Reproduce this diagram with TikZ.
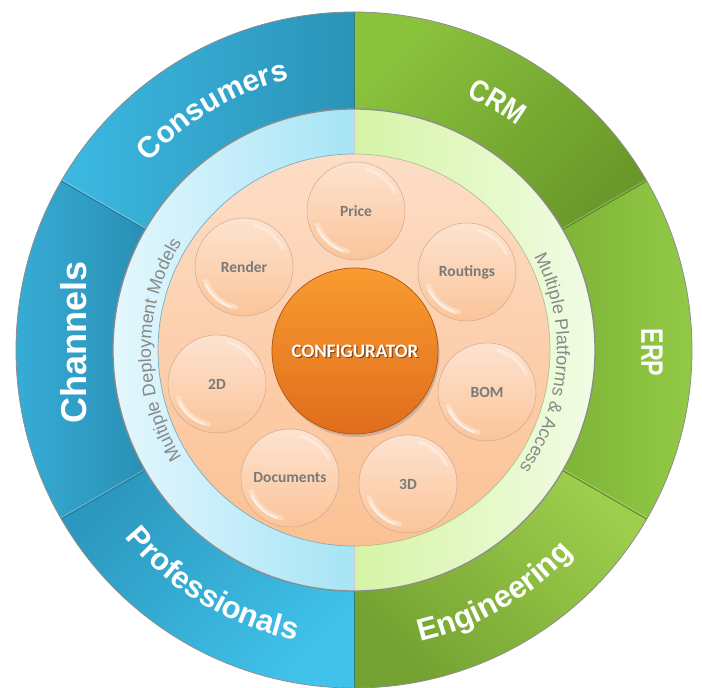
\documentclass[tikz,border=0pt]{standalone}
\usepackage{fontspec}
\setmainfont{Carlito}
\newfontfamily\lsans{Liberation Sans}
\newfontfamily\lsanscrm{Liberation Sans}[BoldFeatures={FakeStretch=0.86}]
\newfontfamily\lsanserp{Liberation Sans}[BoldFeatures={FakeStretch=0.75}]
\usetikzlibrary{decorations.text,shadows}
\definecolor{consL}{HTML}{3CB9E2}
\definecolor{consR}{HTML}{2B93B8}
\definecolor{chanL}{HTML}{38B0DA}
\definecolor{chanR}{HTML}{2A8FB4}
\definecolor{profT}{HTML}{2C98BF}
\definecolor{profB}{HTML}{40C2EA}
\definecolor{crmT}{HTML}{8AC23D}
\definecolor{crmB}{HTML}{6A982A}
\definecolor{erpL}{HTML}{7FB437}
\definecolor{erpR}{HTML}{94CC47}
\definecolor{engT}{HTML}{9ECE4C}
\definecolor{engB}{HTML}{74A232}
\definecolor{blueDiv}{HTML}{22799A}
\definecolor{greenDiv}{HTML}{5C8624}
\definecolor{ringBL}{HTML}{E4F7FD}
\definecolor{ringBR}{HTML}{A6E4F6}
\definecolor{ringGL}{HTML}{D6F4A6}
\definecolor{ringGR}{HTML}{F1FCE4}
\definecolor{peachT}{HTML}{FDDDC6}
\definecolor{peachB}{HTML}{FBC193}
\definecolor{bubT}{HTML}{FDE3D0}
\definecolor{bubB}{HTML}{FBC499}
\definecolor{bubLine}{HTML}{CDAA92}
\definecolor{bubText}{HTML}{7A7A7A}
\definecolor{cfgT}{HTML}{F99C30}
\definecolor{cfgB}{HTML}{E06C1C}
\definecolor{cfgLine}{HTML}{B65A18}
\definecolor{ringText}{HTML}{888888}
\begin{document}
\begin{tikzpicture}[x=1pt,y=1pt,
  bubble/.style={circle, minimum size=98pt, inner sep=0pt,
    top color=bubT, bottom color=bubB, draw=bubLine, line width=0.5pt,
    text=bubText, font=\bfseries\fontsize{15.5}{18}\selectfont,
    path picture={
      \draw[white, opacity=0.35, line width=5pt, line cap=round]
        (path picture bounding box.center) ++(200:41) arc[start angle=200, end angle=258, radius=41];
      \draw[white, opacity=0.6, line width=2pt, line cap=round]
        (path picture bounding box.center) ++(205:42) arc[start angle=205, end angle=252, radius=42];
      \draw[white, opacity=0.35, line width=3pt, line cap=round]
        (path picture bounding box.center) ++(25:43) arc[start angle=25, end angle=75, radius=43];
    }},
  outerlab/.style={text=white, inner sep=0pt},
  divline/.style={line width=1pt},
]
\useasboundingbox (0,0) rectangle (702,688);
\begin{scope}[shift={(354,338)}]
  % outer ring sectors
  \shade[left color=consL, right color=consR]
    (90:338) arc[start angle=90,end angle=150,radius=338] -- (150:241) arc[start angle=150,end angle=90,radius=241] -- cycle;
  \shade[left color=chanL, right color=chanR]
    (150:338) arc[start angle=150,end angle=210,radius=338] -- (210:241) arc[start angle=210,end angle=150,radius=241] -- cycle;
  \shade[top color=profT, bottom color=profB, shading angle=45]
    (210:338) arc[start angle=210,end angle=270,radius=338] -- (270:241) arc[start angle=270,end angle=210,radius=241] -- cycle;
  \shade[top color=crmT, bottom color=crmB, shading angle=45]
    (30:338) arc[start angle=30,end angle=90,radius=338] -- (90:241) arc[start angle=90,end angle=30,radius=241] -- cycle;
  \shade[left color=erpL, right color=erpR]
    (-30:338) arc[start angle=-30,end angle=30,radius=338] -- (30:241) arc[start angle=30,end angle=-30,radius=241] -- cycle;
  \shade[top color=engT, bottom color=engB, shading angle=-45]
    (270:338) arc[start angle=270,end angle=330,radius=338] -- (330:241) arc[start angle=330,end angle=270,radius=241] -- cycle;
  % dividers
  \foreach \a in {150,210} {
    \draw[divline, blueDiv] (\a:241) -- (\a:338);
    \draw[white, opacity=0.25, line width=1pt] ([shift={(\a-90:1.2)}]\a:241) -- ([shift={(\a-90:1.2)}]\a:338);
  }
  \foreach \a in {30,330} {
    \draw[divline, greenDiv] (\a:241) -- (\a:338);
    \draw[white, opacity=0.25, line width=1pt] ([shift={(\a+90:1.2)}]\a:241) -- ([shift={(\a+90:1.2)}]\a:338);
  }
  \draw[divline, blueDiv!70!greenDiv] (90:241) -- (90:338);
  \draw[divline, blueDiv!70!greenDiv] (270:241) -- (270:338);
  \draw[black!45, line width=0.8pt] (0,0) circle[radius=338];
  % light ring
  \shade[left color=ringBL, right color=ringBR]
    (90:241) arc[start angle=90,end angle=270,radius=241] -- (270:196) arc[start angle=270,end angle=90,radius=196] -- cycle;
  \shade[left color=ringGL, right color=ringGR]
    (-90:241) arc[start angle=-90,end angle=90,radius=241] -- (90:196) arc[start angle=90,end angle=-90,radius=196] -- cycle;
  \draw[black!20, line width=0.6pt] (90:196) -- (90:241);
  \draw[black!20, line width=0.6pt] (270:196) -- (270:241);
  \draw[black!45, line width=1.3pt] (0,0) circle[radius=241];
  % peach disc
  \shade[top color=peachT, bottom color=peachB] (0,0) circle[radius=196];
  \draw[blueDiv!60, line width=0.7pt] (90:196) arc[start angle=90, end angle=270, radius=196];
  \draw[greenDiv!50, line width=0.7pt] (-90:196) arc[start angle=-90, end angle=90, radius=196];
  % outer labels along arcs
  \path[decorate, decoration={text along path, text align=center,
      text={|\lsans\bfseries\fontsize{30}{34}\selectfont\color{white}|Consumers}}]
    (150:278) arc[start angle=150, end angle=91, radius=278];
  \path[decorate, decoration={text along path, text align=center,
      text={|\lsanscrm\bfseries\fontsize{30}{34}\selectfont\color{white}|CRM}}]
    (80:277) arc[start angle=80, end angle=40, radius=277];
  \path[decorate, decoration={text along path, text align=center,
      text={|\lsans\bfseries\fontsize{31}{35}\selectfont\color{white}|Professionals}}]
    (204:296) arc[start angle=204, end angle=274, radius=296];
  \path[decorate, decoration={text along path, text align=center,
      text={|\lsans\bfseries\fontsize{31}{35}\selectfont\color{white}|Engineering}}]
    (265:299) arc[start angle=265, end angle=335, radius=299];
  % ring labels
  \path[decorate, decoration={text along path, text align=center,
      text={|\lsans\fontsize{18}{20}\selectfont\color{ringText}|Multiple Deployment Models}}]
    (228:203) arc[start angle=228, end angle=132, radius=203];
  \path[decorate, decoration={text along path, text align=center,
      text={|\lsans\fontsize{18}{20}\selectfont\color{ringText}|Multiple Platforms {\&} Access}}]
    (44:203) arc[start angle=44, end angle=-52, radius=203];
\end{scope}
% straight outer labels
\node[outerlab, rotate=90, font=\lsans\bfseries\fontsize{36}{40}\selectfont] (channels) at (74,345.5) {Channels};
\node[outerlab, rotate=-90, font=\lsanserp\bfseries\fontsize{31}{35}\selectfont] (erp) at (652,335.5) {ERP};
% bubbles
\node[bubble] (price) at (356,477) {Price};
\node[bubble] (render) at (244,421) {Render};
\node[bubble] (routings) at (467,416) {Routings};
\node[bubble] (twod) at (217,304) {2D};
\node[bubble] (bom) at (487,296) {BOM};
\node[bubble] (documents) at (290,210) {Documents};
\node[bubble] (threed) at (408,204) {3D};
% configurator
\node[circle, minimum size=166pt, inner sep=0pt, top color=cfgT, bottom color=cfgB,
      draw=cfgLine, line width=0.8pt,
      drop shadow={shadow xshift=1.5pt, shadow yshift=-3pt, opacity=0.35}] (cfg) at (355,337) {};
\node[text=black, opacity=0.45, font=\bfseries\fontsize{19}{22}\selectfont] (cfgshadow) at ([shift={(1.2,-1.5)}]cfg.center) {CONFIGURATOR};
\node[text=white, font=\bfseries\fontsize{19}{22}\selectfont] (cfgtext) at (cfg.center) {CONFIGURATOR};
\end{tikzpicture}
\end{document}
